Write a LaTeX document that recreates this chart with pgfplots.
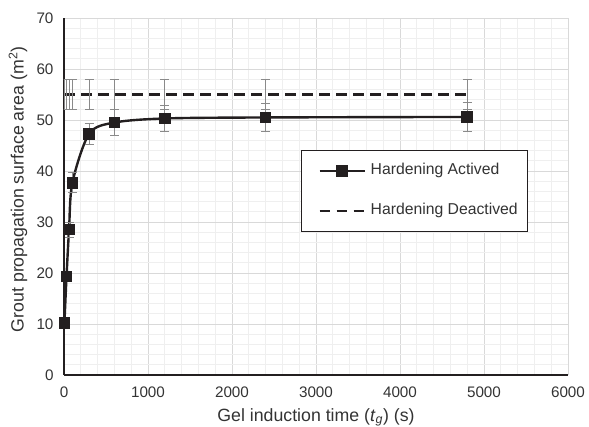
\documentclass[border=0pt]{standalone}
\usepackage{fontspec}
\setmainfont{Liberation Sans}
\usepackage{pgfplots}
\pgfplotsset{compat=1.18}
\definecolor{ln}{HTML}{231F20}
\definecolor{eb}{HTML}{8A8A8A}
\definecolor{gmaj}{HTML}{D9D9D9}
\definecolor{gmin}{HTML}{EFEFEF}
\definecolor{txt}{HTML}{333333}
\begin{document}
\begin{tikzpicture}
\path[use as bounding box] (-64bp,-52bp) rectangle (525bp,375bp);
\begin{axis}[
 scale only axis, width=504bp, height=357bp,
 xmin=0, xmax=6000, ymin=0, ymax=70,
 xtick={0,1000,...,6000}, ytick={0,10,...,70},
 minor x tick num=4, minor y tick num=4,
 grid=both,
 major grid style={gmaj, line width=0.9bp},
 minor grid style={gmin, line width=0.9bp},
 axis x line*=bottom, axis y line*=left,
 axis line style={ln, line width=2bp, -},
 major tick length=0pt, minor tick length=0pt,
 /pgf/number format/assume math mode=true,
 /pgf/number format/1000 sep={},
 tick label style={font=\fontsize{15.3}{18}\selectfont, text=txt},
 xticklabel style={yshift=-8bp},
 yticklabel style={xshift=-7bp},
 label style={font=\fontsize{17.8}{21}\selectfont, text=txt},
 xlabel={Gel induction time (\textit{t}\textsubscript{\textit{g}}) (s)},
 ylabel={Grout propagation surface area (m\textsuperscript{2})},
 xlabel style={at={(axis description cs:0.5,0)}, anchor=center, yshift=-42.5bp},
 ylabel style={at={(axis description cs:-0.0913,0.52)}, anchor=center},
 legend style={at={(0.470,0.630)}, anchor=north west, draw=ln, line width=0.9bp,
   fill=white, font=\fontsize{15.8}{18}\selectfont, text=txt,
   inner xsep=10bp, inner ysep=13bp, row sep=25bp, column sep=5bp,
   nodes={inner sep=0pt, text height=11bp, text depth=4bp}},
 legend cell align=left,
 legend image code/.code={\path (0bp,0bp); \draw[mark repeat=2,mark phase=2,#1] plot coordinates {(7bp,0bp) (29.5bp,0bp) (52bp,0bp)};},
]
\addplot[ln, line width=2.4bp, smooth, mark=square*, mark size=4.6bp,
  mark options={solid, fill=ln},
  error bars/.cd, y dir=both, y explicit,
  error bar style={eb, line width=1bp},
  error mark options={eb, line width=1bp, mark size=4.5bp, rotate=90}]
 table[x=x, y=y, y error=e] {
 x y e
 5 10.2 0.3
 30 19.3 1.0
 60 28.5 1.5
 100 37.7 2.0
 300 47.3 2.1
 600 49.5 2.6
 1200 50.3 2.6
 2400 50.5 2.7
 4800 50.6 2.8
 };
\addlegendentry{Hardening Actived}
\addplot[ln, line width=2.4bp, dash pattern=on 10.5bp off 6.5bp,
  error bars/.cd, y dir=both, y explicit,
  error bar style={eb, line width=1bp, solid},
  error mark options={eb, line width=1bp, mark size=4.5bp, solid, rotate=90}]
 table[x=x, y=y, y error=e] {
 x y e
 5 55 3
 30 55 3
 60 55 3
 100 55 3
 300 55 3
 600 55 3
 1200 55 3
 2400 55 3
 4800 55 3
 };
\addlegendentry{Hardening Deactived}
\end{axis}
\end{tikzpicture}
\end{document}
